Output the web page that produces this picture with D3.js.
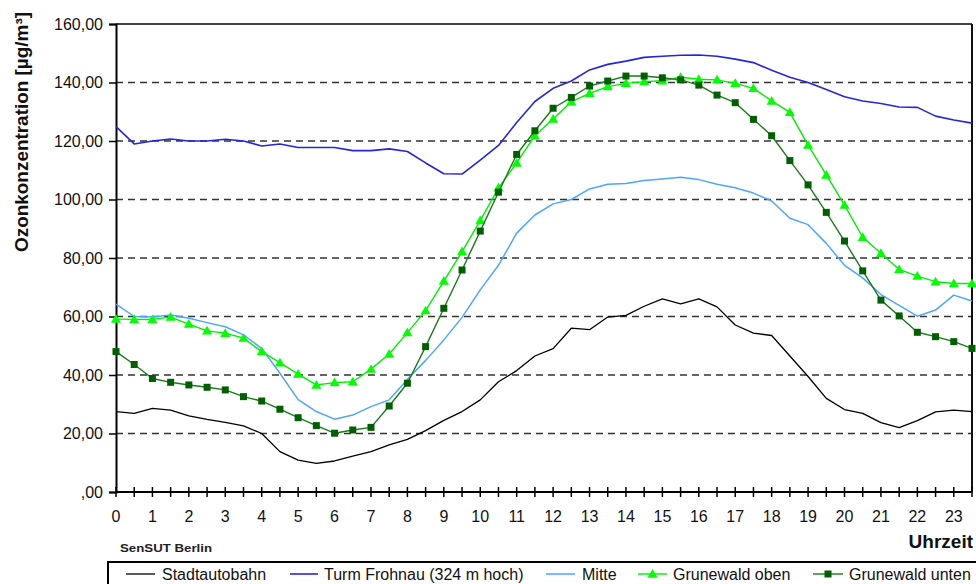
<!DOCTYPE html>
<html>
<head>
<meta charset="utf-8">
<script src="https://cdn.jsdelivr.net/npm/d3@7"></script>
<style>
  html, body { margin: 0; padding: 0; background: #fff; }
  svg { display: block; font-family: Arial, "Liberation Sans", sans-serif; }
</style>
</head>
<body>
<svg id="chart" width="976" height="584"></svg>
<script>
// Half-hourly categories over one day
const times = ["00:00","00:30","01:00","01:30","02:00","02:30","03:00","03:30",
  "04:00","04:30","05:00","05:30","06:00","06:30","07:00","07:30",
  "08:00","08:30","09:00","09:30","10:00","10:30","11:00","11:30",
  "12:00","12:30","13:00","13:30","14:00","14:30","15:00","15:30",
  "16:00","16:30","17:00","17:30","18:00","18:30","19:00","19:30",
  "20:00","20:30","21:00","21:30","22:00","22:30","23:00","23:30"];
const hourLabels = ["0","1","2","3","4","5","6","7","8","9","10","11",
  "12","13","14","15","16","17","18","19","20","21","22","23"];
const yTicks = [0, 20, 40, 60, 80, 100, 120, 140, 160];

// Ozone concentration in µg/m³ per station
const stadtautobahn = [27.5, 26.9, 28.6, 28.0, 26.0, 24.8, 23.8, 22.6, 20.0, 13.8, 10.9, 9.8,
  10.6, 12.3, 13.8, 16.1, 18.0, 21.0, 24.5, 27.5, 31.5, 37.7, 41.5, 46.5,
  49.0, 56.0, 55.5, 59.8, 60.4, 63.5, 66.0, 64.3, 66.0, 63.3, 57.1, 54.3,
  53.5, 46.5, 39.5, 32.0, 28.2, 26.9, 23.7, 22.0, 24.4, 27.4, 28.0, 27.5];
const turmFrohnau = [124.9, 119.0, 120.0, 120.7, 120.0, 120.0, 120.6, 120.0, 118.3, 119.0, 117.8, 117.8,
  117.8, 116.7, 116.7, 117.3, 116.4, 112.5, 108.8, 108.7, 113.5, 118.5, 126.3, 133.5,
  138.0, 140.5, 144.3, 146.2, 147.3, 148.6, 149.0, 149.3, 149.4, 149.0, 148.0, 146.8,
  144.2, 141.8, 140.0, 137.6, 135.1, 133.7, 132.8, 131.6, 131.5, 128.5, 127.2, 126.1];
const mitte = [64.2, 60.0, 59.8, 60.5, 59.4, 57.9, 56.5, 53.7, 49.1, 40.6, 31.6, 27.5,
  24.9, 26.3, 29.2, 31.5, 38.5, 45.0, 52.0, 59.7, 69.1, 77.5, 88.5, 94.7,
  98.5, 100.0, 103.6, 105.2, 105.5, 106.5, 107.0, 107.6, 106.8, 105.2, 104.0, 102.2,
  99.5, 93.6, 91.4, 85.0, 77.5, 73.2, 67.5, 63.8, 60.1, 62.2, 67.3, 65.3];
const grunewaldOben = [59.1, 59.0, 59.0, 59.8, 57.4, 55.1, 54.3, 52.6, 48.0, 44.2, 40.3, 36.6,
  37.4, 37.7, 42.0, 47.2, 54.5, 62.0, 72.1, 82.2, 92.8, 104.0, 112.5, 121.8,
  127.5, 133.4, 136.3, 138.6, 139.7, 140.3, 140.6, 141.8, 141.1, 140.9, 139.7, 138.0,
  133.7, 129.8, 118.6, 108.4, 98.1, 87.1, 81.6, 76.1, 73.8, 71.9, 71.3, 71.3];
const grunewaldUnten = [48.0, 43.6, 38.8, 37.5, 36.6, 35.8, 34.9, 32.6, 31.1, 28.3, 25.4, 22.7,
  20.1, 21.2, 22.1, 29.4, 37.2, 49.7, 62.8, 75.9, 89.2, 102.5, 115.4, 123.5,
  131.2, 134.9, 138.8, 140.5, 142.2, 142.2, 141.6, 140.9, 139.1, 135.7, 133.1, 127.4,
  121.8, 113.3, 105.0, 95.6, 85.8, 75.6, 65.6, 60.2, 54.6, 53.1, 51.4, 49.1];

const seriesNames = ["Stadtautobahn", "Turm Frohnau (324 m hoch)", "Mitte", "Grunewald oben", "Grunewald unten"];

const series = [
  { name: seriesNames[0], values: stadtautobahn, color: "#000000", width: 1.3, marker: null },
  { name: seriesNames[1], values: turmFrohnau, color: "#2525dd", width: 1.6, marker: null },
  { name: seriesNames[2], values: mitte, color: "#4da6ff", width: 1.5, marker: null },
  { name: seriesNames[3], values: grunewaldOben, color: "#00ee00", width: 1.4, marker: "triangle", markerColor: "#00ff00" },
  { name: seriesNames[4], values: grunewaldUnten, color: "#1b7a1b", width: 1.4, marker: "square", markerColor: "#006000" }
];

const plot = { left: 116, right: 972, top: 24, bottom: 492 };

const svg = d3.select("#chart");

const x = d3.scalePoint().domain(times).range([plot.left, plot.right]);
const y = d3.scaleLinear().domain([0, 160]).range([plot.bottom, plot.top]);

const fmt = v => v === 0 ? ",00" : d3.format(".2f")(v).replace(".", ",");

// dashed horizontal gridlines
svg.append("g").selectAll("line")
  .data(yTicks.filter(v => v > 0 && v < 160))
  .join("line")
  .attr("x1", plot.left).attr("x2", plot.right)
  .attr("y1", d => y(d)).attr("y2", d => y(d))
  .attr("stroke", "#333").attr("stroke-width", 1.7)
  .attr("stroke-dasharray", "7,5");

// plot frame
svg.append("line").attr("x1", plot.left).attr("x2", plot.right)
  .attr("y1", plot.top).attr("y2", plot.top).attr("stroke", "#444").attr("stroke-width", 2);
svg.append("line").attr("x1", plot.right).attr("x2", plot.right)
  .attr("y1", plot.top).attr("y2", plot.bottom).attr("stroke", "#111").attr("stroke-width", 2);

// y axis
const yAxis = d3.axisLeft(y).tickValues(yTicks).tickFormat(fmt).tickSize(7).tickPadding(6);
const gy = svg.append("g").attr("transform", `translate(${plot.left},0)`).call(yAxis);
gy.select(".domain").attr("stroke", "#000").attr("stroke-width", 2);
gy.selectAll(".tick line").attr("stroke", "#000").attr("stroke-width", 1.5);
gy.selectAll(".tick text").attr("font-size", 16).attr("fill", "#111")
  .attr("font-family", "Arial, 'Liberation Sans', sans-serif");

// x axis: ticks crossing the axis at every half hour, labels on full hours
const gx = svg.append("g").attr("transform", `translate(0,${plot.bottom})`);
gx.append("line").attr("x1", plot.left).attr("x2", plot.right)
  .attr("y1", 0).attr("y2", 0).attr("stroke", "#000").attr("stroke-width", 2);
gx.selectAll("line.tk").data(times).join("line").attr("class", "tk")
  .attr("x1", d => x(d)).attr("x2", d => x(d))
  .attr("y1", -5).attr("y2", 5).attr("stroke", "#000").attr("stroke-width", 1.5);
gx.selectAll("text").data(hourLabels).join("text")
  .attr("x", (d, i) => x(times[i * 2]))
  .attr("y", 30)
  .attr("text-anchor", "middle")
  .attr("font-size", 16).attr("fill", "#111")
  .text(d => d);

// axis titles
svg.append("text")
  .attr("transform", "translate(28,132) rotate(-90)")
  .attr("text-anchor", "middle")
  .attr("font-size", 18).attr("font-weight", "bold").attr("fill", "#111")
  .attr("textLength", 240).attr("lengthAdjust", "spacingAndGlyphs")
  .text("Ozonkonzentration [µg/m³]");
svg.append("text")
  .attr("x", 973).attr("y", 548)
  .attr("text-anchor", "end")
  .attr("font-size", 19).attr("font-weight", "bold").attr("fill", "#111")
  .text("Uhrzeit");
svg.append("text")
  .attr("x", 120).attr("y", 552)
  .attr("font-size", 11).attr("font-weight", "bold").attr("fill", "#222")
  .attr("textLength", 92).attr("lengthAdjust", "spacingAndGlyphs")
  .text("SenSUT Berlin");

// series lines and markers
const line = d3.line().x((d, i) => x(times[i])).y(d => y(d));
const tri = d3.symbol().type(d3.symbolTriangle).size(44);

function drawMarker(g, type, cx, cy, color) {
  if (type === "triangle") {
    g.append("path").attr("d", tri()).attr("transform", `translate(${cx},${cy + 0.8})`)
      .attr("fill", color);
  } else if (type === "square") {
    g.append("rect").attr("x", cx - 3.5).attr("y", cy - 3.5).attr("width", 7).attr("height", 7)
      .attr("fill", color);
  }
}

series.forEach(s => {
  const g = svg.append("g");
  g.append("path").datum(s.values).attr("d", line)
    .attr("fill", "none").attr("stroke", s.color).attr("stroke-width", s.width)
    .attr("stroke-linejoin", "round");
  if (s.marker) {
    s.values.forEach((v, i) => drawMarker(g, s.marker, x(times[i]), y(v), s.markerColor));
  }
});

// legend
const legend = svg.append("g");
legend.append("rect").attr("x", 108).attr("y", 562).attr("width", 880).attr("height", 40)
  .attr("fill", "#fff").attr("stroke", "#000").attr("stroke-width", 2);
const legendPos = [
  { x0: 126, x1: 155, tx: 162 },
  { x0: 290, x1: 318, tx: 324 },
  { x0: 546, x1: 575, tx: 582 },
  { x0: 638, x1: 667, tx: 673 },
  { x0: 813, x1: 843, tx: 849 }
];
series.forEach((s, i) => {
  const p = legendPos[i];
  legend.append("line").attr("x1", p.x0).attr("x2", p.x1).attr("y1", 574).attr("y2", 574)
    .attr("stroke", s.color).attr("stroke-width", s.width);
  if (s.marker) drawMarker(legend, s.marker, (p.x0 + p.x1) / 2, 574, s.markerColor);
  legend.append("text").attr("x", p.tx).attr("y", 580)
    .attr("font-size", 16).attr("fill", "#111").text(s.name);
});
</script>
</body>
</html>
